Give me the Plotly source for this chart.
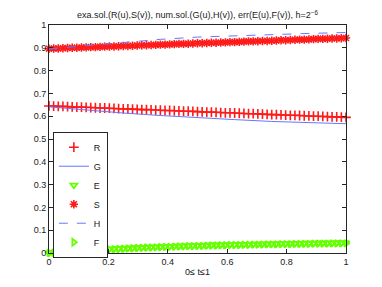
import plotly.graph_objects as go

# grid h = 2^-6
t = [i / 64 for i in range(65)]

R = [0.645, 0.644, 0.643, 0.643, 0.642, 0.641, 0.640, 0.640, 0.639, 0.638,
     0.637, 0.636, 0.636, 0.635, 0.634, 0.633, 0.632, 0.632, 0.631, 0.630,
     0.629, 0.629, 0.628, 0.627, 0.626, 0.625, 0.625, 0.624, 0.623, 0.622,
     0.622, 0.621, 0.620, 0.619, 0.618, 0.618, 0.617, 0.616, 0.615, 0.615,
     0.614, 0.613, 0.612, 0.611, 0.611, 0.610, 0.609, 0.608, 0.607, 0.607,
     0.606, 0.605, 0.604, 0.604, 0.603, 0.602, 0.601, 0.600, 0.600, 0.599,
     0.598, 0.597, 0.597, 0.596, 0.595]

S = [0.896, 0.897, 0.897, 0.898, 0.899, 0.900, 0.900, 0.901, 0.902, 0.903,
     0.903, 0.904, 0.905, 0.906, 0.906, 0.907, 0.908, 0.908, 0.909, 0.910,
     0.911, 0.911, 0.912, 0.913, 0.914, 0.914, 0.915, 0.916, 0.917, 0.917,
     0.918, 0.919, 0.920, 0.920, 0.921, 0.922, 0.922, 0.923, 0.924, 0.925,
     0.925, 0.926, 0.927, 0.928, 0.928, 0.929, 0.930, 0.930, 0.931, 0.932,
     0.933, 0.933, 0.934, 0.935, 0.936, 0.936, 0.937, 0.938, 0.939, 0.939,
     0.940, 0.941, 0.941, 0.942, 0.943]

E = [0.000, 0.002, 0.003, 0.005, 0.006, 0.008, 0.009, 0.010, 0.012, 0.013,
     0.014, 0.015, 0.016, 0.017, 0.018, 0.019, 0.020, 0.021, 0.022, 0.023,
     0.024, 0.025, 0.026, 0.027, 0.027, 0.028, 0.029, 0.030, 0.030, 0.031,
     0.032, 0.032, 0.033, 0.033, 0.034, 0.035, 0.035, 0.036, 0.036, 0.037,
     0.037, 0.038, 0.038, 0.038, 0.039, 0.039, 0.040, 0.040, 0.040, 0.041,
     0.041, 0.041, 0.042, 0.042, 0.042, 0.043, 0.043, 0.043, 0.044, 0.044,
     0.044, 0.044, 0.045, 0.045, 0.045]

F = [0.000, 0.001, 0.003, 0.004, 0.006, 0.007, 0.008, 0.010, 0.011, 0.012,
     0.013, 0.014, 0.015, 0.016, 0.017, 0.018, 0.019, 0.020, 0.021, 0.022,
     0.023, 0.024, 0.024, 0.025, 0.026, 0.027, 0.027, 0.028, 0.029, 0.029,
     0.030, 0.030, 0.031, 0.031, 0.032, 0.033, 0.033, 0.034, 0.034, 0.035,
     0.035, 0.035, 0.036, 0.036, 0.037, 0.037, 0.037, 0.038, 0.038, 0.038,
     0.039, 0.039, 0.039, 0.040, 0.040, 0.040, 0.040, 0.041, 0.041, 0.041,
     0.041, 0.042, 0.042, 0.042, 0.042]

# numerical solutions (lines), coarser sampling
tc = [0.0, 0.125, 0.25, 0.375, 0.5, 0.625, 0.75, 0.875, 1.0]
G = [0.641, 0.627, 0.614, 0.603, 0.593, 0.585, 0.577, 0.572, 0.567]
H = [0.895, 0.910, 0.925, 0.937, 0.947, 0.953, 0.958, 0.963, 0.967]

RED = "#ff1a1a"
BLUE = "#6677ff"
GREEN = "#66ff00"

fig = go.Figure()
fig.add_trace(go.Scatter(x=t, y=R, mode="markers", name="R", cliponaxis=False,
                         marker=dict(symbol="cross-thin", size=7, line=dict(color=RED, width=1.6), color=RED)))
fig.add_trace(go.Scatter(x=tc, y=G, mode="lines", name="G",
                         line=dict(color=BLUE, width=1)))
fig.add_trace(go.Scatter(x=t, y=E, mode="markers", name="E", cliponaxis=False,
                         marker=dict(symbol="triangle-down-open", size=6, line=dict(color=GREEN, width=1.8), color=GREEN)))
fig.add_trace(go.Scatter(x=t, y=S, mode="markers", name="S", cliponaxis=False,
                         marker=dict(symbol="asterisk-open", size=7, line=dict(color=RED, width=1.6), color=RED)))
fig.add_trace(go.Scatter(x=tc, y=H, mode="lines", name="H",
                         line=dict(color=BLUE, width=1, dash="dash")))
fig.add_trace(go.Scatter(x=t, y=F, mode="markers", name="F", cliponaxis=False,
                         marker=dict(symbol="triangle-right-open", size=6, line=dict(color=GREEN, width=1.8), color=GREEN)))

axis_common = dict(showgrid=False, zeroline=False, showline=True, linecolor="#262626",
                   linewidth=1, mirror="ticks", ticks="inside", ticklen=4, tickwidth=1,
                   tickcolor="#262626", tickfont=dict(size=9, color="#1a1a1a"))

# the page adds an 8px body margin, so the figure is sized to fit the rest
fig.update_layout(
    width=374, height=279,
    margin=dict(l=41, r=36, t=14, b=32),
    paper_bgcolor="white", plot_bgcolor="white",
    font=dict(family="Liberation Sans, Arial, sans-serif", size=9, color="#1a1a1a"),
    title=dict(text="exa.sol.(R(u),S(v)), num.sol.(G(u),H(v)), err(E(u),F(v)), h=2<sup>−6</sup>",
               x=0.5, xref="paper", xanchor="center", y=0.985, yanchor="top",
               font=dict(size=9, color="#1a1a1a")),
    xaxis=dict(range=[0, 1], tickvals=[0, 0.2, 0.4, 0.6, 0.8, 1],
               ticktext=["0", "0.2", "0.4", "0.6", "0.8", "1"],
               title=dict(text="0≤ t≤1", font=dict(size=9), standoff=2), **axis_common),
    yaxis=dict(range=[0, 1], tickvals=[0, 0.1, 0.2, 0.3, 0.4, 0.5, 0.6, 0.7, 0.8, 0.9, 1],
               ticktext=["0", "0.1", "0.2", "0.3", "0.4", "0.5", "0.6", "0.7", "0.8", "0.9", "1"],
               **axis_common),
    showlegend=True,
    legend=dict(x=0.013, y=0.532, xanchor="left", yanchor="top",
                bgcolor="white", bordercolor="#262626", borderwidth=1,
                font=dict(size=9, color="#1a1a1a"), itemwidth=30, tracegroupgap=0,
                traceorder="normal"),
)

fig.write_html("out.html")
